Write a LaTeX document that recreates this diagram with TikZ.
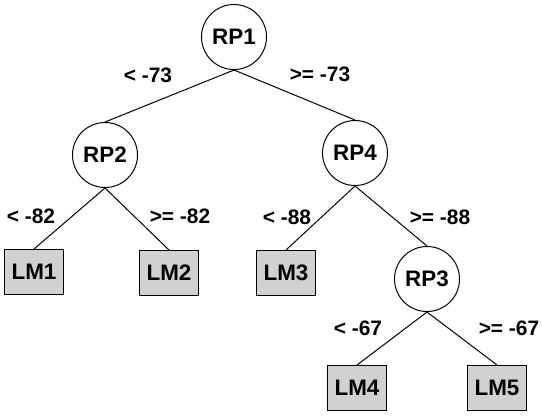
\documentclass[tikz,border=0pt]{standalone}
\usepackage{fontspec}
\setmainfont{Liberation Sans}
\begin{document}
\begin{tikzpicture}[x=1bp,y=-1bp,
  every node/.style={font=\fontsize{22.5}{26}\selectfont\bfseries},
  split/.style={circle,draw,line width=1bp,minimum size=65bp,inner sep=0pt},
  leaf/.style={rectangle,draw,line width=1bp,fill=black!18,minimum width=59bp,minimum height=45bp,inner sep=0pt},
  edge/.style={line width=1bp},
  lbl/.style={inner sep=0pt,font=\fontsize{21}{24}\selectfont\bfseries}]
\useasboundingbox (0,0) rectangle (542,416);
\node[split] (rp1) at (234,37) {RP1};
\node[split] (rp2) at (105,155) {RP2};
\node[split] (rp4) at (355,153) {RP4};
\node[split] (rp3) at (427,279) {RP3};
\node[leaf] (lm1) at (34,272) {LM1};
\node[leaf] (lm2) at (169,273) {LM2};
\node[leaf] (lm3) at (286,273) {LM3};
\node[leaf] (lm4) at (357,388) {LM4};
\node[leaf] (lm5) at (497,388) {LM5};
\draw[edge] (rp1.south) -- (rp2.north);
\draw[edge] (rp1.south) -- (rp4.north);
\draw[edge] (rp2.south) -- (lm1.north);
\draw[edge] (rp2.south) -- (lm2.north);
\draw[edge] (rp4.south) -- (lm3.north);
\draw[edge] (rp4.south) -- (rp3.north);
\draw[edge] (rp3.south) -- (lm4.north);
\draw[edge] (rp3.south) -- (lm5.north);
\node[lbl] (l1) at (148,75) {< -73};
\node[lbl] (l2) at (320,74) {>= -73};
\node[lbl] (l3) at (31,216) {< -82};
\node[lbl] (l4) at (180,216) {>= -82};
\node[lbl] (l5) at (287,217) {< -88};
\node[lbl] (l6) at (440,217) {>= -88};
\node[lbl] (l7) at (358,328) {< -67};
\node[lbl] (l8) at (509,328) {>= -67};
\end{tikzpicture}
\end{document}
